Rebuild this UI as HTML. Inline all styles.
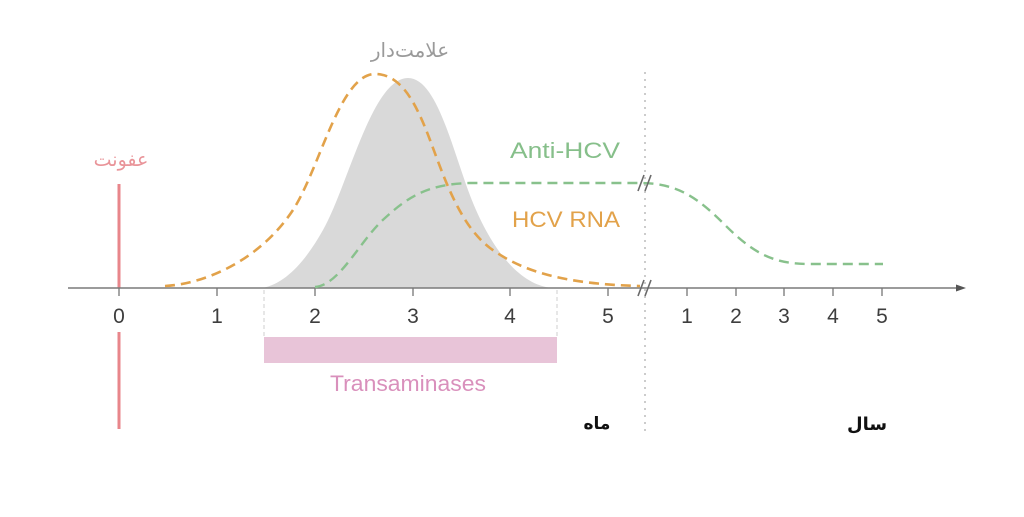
<!DOCTYPE html>
<html>
<head>
<meta charset="utf-8">
<style>
  html, body { margin:0; padding:0; background:#ffffff; }
  body { width:1024px; height:517px; overflow:hidden; }
  svg { display:block; }
  .tick { font-family:"Liberation Sans", sans-serif; font-size:21px; fill:#3e3e3e; text-anchor:middle; }
  .fa { font-family:"DejaVu Sans", "Liberation Sans", sans-serif; }
</style>
</head>
<body>
<svg width="1024" height="517" viewBox="0 0 1024 517" xmlns="http://www.w3.org/2000/svg">
  <!-- gray symptomatic area -->
  <path d="M262,288 C285,284 305,262 323,230 C348,186 372,78 408,78 C435,78 450,140 468,190 C490,250 520,285 552,288 Z" fill="#d9d9d9"/>

  <!-- dotted vertical separator -->
  <line x1="645" y1="72" x2="645" y2="432" stroke="#b0b0b0" stroke-width="1.3" stroke-dasharray="2,5"/>

  <!-- transaminases dashed guides -->
  <line x1="264" y1="290" x2="264" y2="337" stroke="#cfcfcf" stroke-width="1" stroke-dasharray="4,3"/>
  <line x1="557" y1="290" x2="557" y2="337" stroke="#cfcfcf" stroke-width="1" stroke-dasharray="4,3"/>

  <!-- transaminases bar -->
  <rect x="264" y="337" width="293" height="26" fill="#e8c4d8"/>
  <text x="408" y="391" font-family="Liberation Sans, sans-serif" font-size="22" fill="#d990bc" text-anchor="middle" textLength="156" lengthAdjust="spacingAndGlyphs">Transaminases</text>

  <!-- infection red line -->
  <line x1="119" y1="184" x2="119" y2="288" stroke="#e8868b" stroke-width="3"/>
  <line x1="119" y1="332" x2="119" y2="429" stroke="#e8868b" stroke-width="3"/>
  <text x="121" y="166" class="fa" font-size="19" fill="#e99499" text-anchor="middle">عفونت</text>

  <!-- axis -->
  <line x1="68" y1="288" x2="958" y2="288" stroke="#7a7a7a" stroke-width="1.5"/>
  <path d="M956,284.5 L966,288 L956,291.5 Z" fill="#555"/>

  <!-- ticks -->
  <g stroke="#777" stroke-width="1.3">
    <line x1="119" y1="288" x2="119" y2="296"/>
    <line x1="217" y1="288" x2="217" y2="296"/>
    <line x1="315" y1="288" x2="315" y2="296"/>
    <line x1="413" y1="288" x2="413" y2="296"/>
    <line x1="510" y1="288" x2="510" y2="296"/>
    <line x1="608" y1="288" x2="608" y2="296"/>
    <line x1="687" y1="288" x2="687" y2="296"/>
    <line x1="736" y1="288" x2="736" y2="296"/>
    <line x1="784" y1="288" x2="784" y2="296"/>
    <line x1="833" y1="288" x2="833" y2="296"/>
    <line x1="882" y1="288" x2="882" y2="296"/>
  </g>
  <g class="tick">
    <text x="119" y="323">0</text>
    <text x="217" y="323">1</text>
    <text x="315" y="323">2</text>
    <text x="413" y="323">3</text>
    <text x="510" y="323">4</text>
    <text x="608" y="323">5</text>
    <text x="687" y="323">1</text>
    <text x="736" y="323">2</text>
    <text x="784" y="323">3</text>
    <text x="833" y="323">4</text>
    <text x="882" y="323">5</text>
  </g>

  <!-- HCV RNA orange dashed -->
  <path d="M165,286 C205,284 260,260 293,210 C320,168 340,74 375,74 C400,74 415,100 430,140 C445,180 460,225 490,248 C520,270 560,284 640,286"
        fill="none" stroke="#e2a24a" stroke-width="2.6" stroke-dasharray="10,6"/>

  <!-- Anti-HCV green dashed -->
  <path d="M315,287 C340,285 360,240 385,218 C410,195 430,184 470,183 L643,183 C680,184 700,200 725,225 C755,255 775,264 810,264 L883,264"
        fill="none" stroke="#88c18c" stroke-width="2.4" stroke-dasharray="10,6"/>

  <!-- break marks -->
  <g stroke="#6a6a6a" stroke-width="1.6">
    <line x1="638" y1="191" x2="644" y2="175"/>
    <line x1="645" y1="191" x2="651" y2="175"/>
    <line x1="638" y1="296" x2="644" y2="280"/>
    <line x1="645" y1="296" x2="651" y2="280"/>
  </g>

  <!-- labels -->
  <text x="510" y="158" font-family="Liberation Sans, sans-serif" font-size="22" fill="#86bf8a" textLength="110" lengthAdjust="spacingAndGlyphs">Anti-HCV</text>
  <text x="512" y="227" font-family="Liberation Sans, sans-serif" font-size="22" fill="#e2a24a" textLength="108" lengthAdjust="spacingAndGlyphs">HCV RNA</text>
  <text x="410" y="57" class="fa" font-size="20" fill="#9a9a9a" text-anchor="middle">علامت‌دار</text>

  <text x="597" y="429" class="fa" font-size="17" font-weight="bold" fill="#111" text-anchor="middle">ماه</text>
  <text x="867" y="430" class="fa" font-size="18" font-weight="bold" fill="#111" text-anchor="middle">سال</text>
</svg>
</body>
</html>
